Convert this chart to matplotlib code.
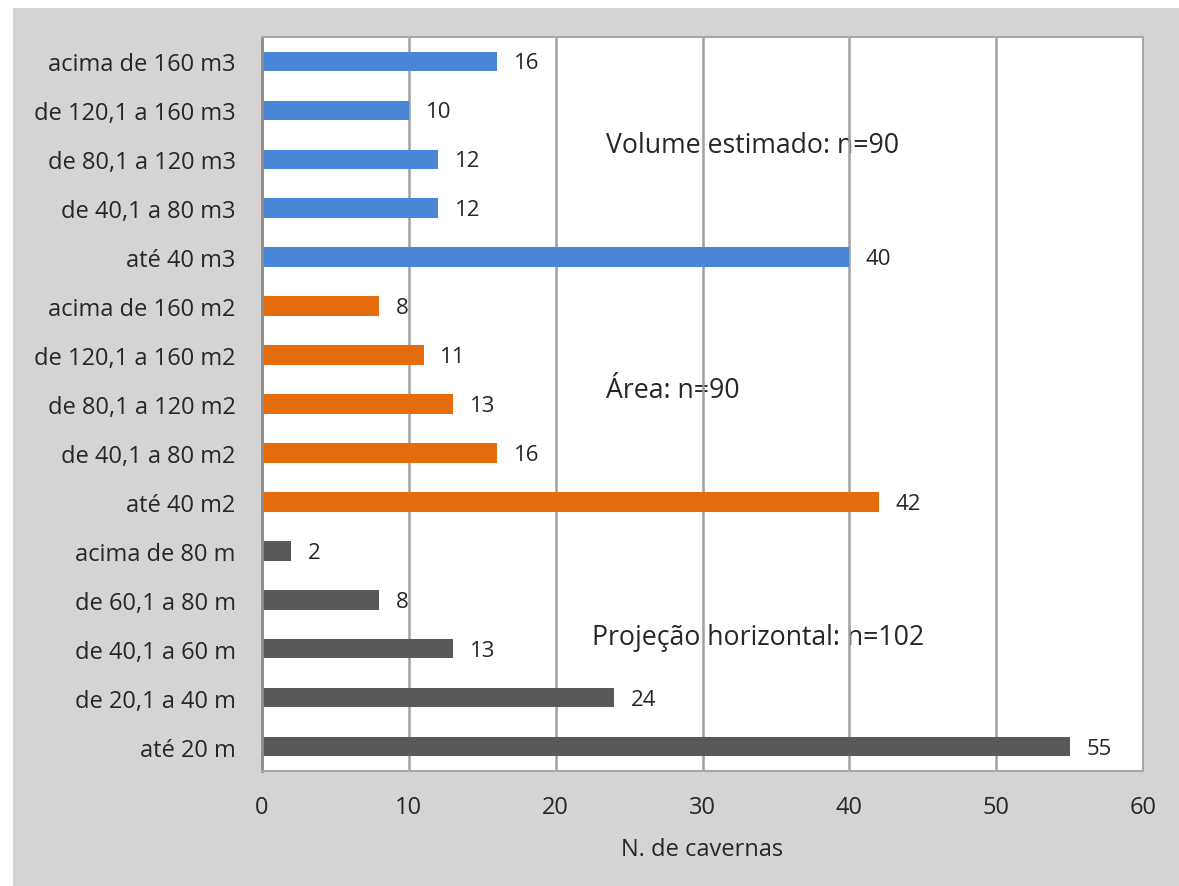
import matplotlib
matplotlib.use('Agg')
import matplotlib.pyplot as plt
from matplotlib.patches import Rectangle

plt.rcParams['font.family'] = ['Open Sans', 'DejaVu Sans']

# Categories from bottom to top, grouped by measure
categories = ['até 20 m', 'de 20,1 a 40 m', 'de 40,1 a 60 m', 'de 60,1 a 80 m', 'acima de 80 m',
              'até 40 m2', 'de 40,1 a 80 m2', 'de 80,1 a 120 m2', 'de 120,1 a 160 m2', 'acima de 160 m2',
              'até 40 m3', 'de 40,1 a 80 m3', 'de 80,1 a 120 m3', 'de 120,1 a 160 m3', 'acima de 160 m3']
projecao = [55, 24, 13, 8, 2]
area = [42, 16, 13, 11, 8]
volume = [40, 12, 12, 10, 16]
group_labels = ['Projeção horizontal: n=102', 'Área: n=90', 'Volume estimado: n=90']

values = projecao + area + volume
colors = ['#595959'] * 5 + ['#e46c0a'] * 5 + ['#4a86d6'] * 5

fig = plt.figure(figsize=(11.79, 8.87), dpi=100)
fig.patch.set_facecolor('white')
fig.patches.append(Rectangle((13 / 1179, 0), 1 - 13 / 1179, 1 - 9 / 887,
                             transform=fig.transFigure, facecolor='#d4d4d4',
                             edgecolor='none', zorder=0))

ax = fig.add_axes([262 / 1179, 1 - 772 / 887, (1143 - 262) / 1179, (772 - 38) / 887])
ax.set_zorder(1)
ax.set_facecolor('white')

y = range(len(categories))
ax.barh(y, values, height=0.40, color=colors, zorder=2)

for yi, v in zip(y, values):
    ax.annotate(str(v), (v, yi - 0.03), xytext=(12, 0), textcoords='offset points',
                va='center', ha='left', fontsize=16, color='#262626')

# group captions sit under the gridlines
ax.text(22.5, 2.23, group_labels[0], fontsize=19.2, color='#262626', va='center', zorder=0.2)
ax.text(23.4, 7.29, group_labels[1], fontsize=19.2, color='#262626', va='center', zorder=0.2)
ax.text(23.4, 12.29, group_labels[2], fontsize=19.2, color='#262626', va='center', zorder=0.2)

ax.set_xlim(0, 60)
ax.set_ylim(-0.5, 14.5)
ax.set_xticks(range(0, 61, 10))
ax.set_yticks(list(y))
ax.set_yticklabels(categories)
ax.tick_params(axis='both', length=0, labelsize=17, colors='#262626')
ax.tick_params(axis='x', pad=17.5)
ax.tick_params(axis='y', pad=19)

ax.grid(axis='x', color='#a0a0a0', linewidth=1.8)
ax.set_axisbelow(True)
for spine in ax.spines.values():
    spine.set_color('#a6a6a6')
    spine.set_linewidth(1.5)
ax.spines['left'].set_color('#8c8c8c')
ax.spines['left'].set_linewidth(2)

ax.set_xlabel('N. de cavernas', fontsize=17, color='#262626', labelpad=13)

fig.savefig('out.png', dpi=100)
